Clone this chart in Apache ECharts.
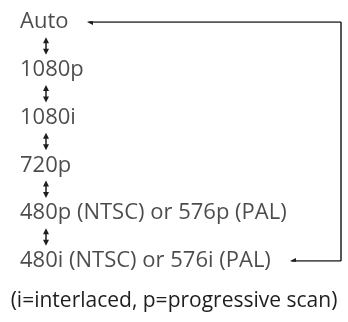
<!DOCTYPE html>
<html><head><meta charset="utf-8">
<script src="https://cdn.jsdelivr.net/npm/echarts@6/dist/echarts.min.js"></script>
<style>html,body{margin:0;padding:0;background:#fff}#c{width:348px;height:322px}</style>
</head><body><div id="c"></div>
<script>
var rows = ['Auto','1080p','1080i','720p','480p (NTSC) or 576p (PAL)','480i (NTSC) or 576i (PAL)'];
var footnote = '(i=interlaced, p=progressive scan)';
var textX = 20;
var arrowX = 46;
var loopTopTipX = 90, loopRightX = 341, loopBottomTipX = 293;

var font = 'Open Sans';
var fs = 22;
var ink = '#1e1e1e';
var last = rows.length - 1;
var head = 'path://M0,10 L5,0 L10,10 Z';

var labelData = rows.map(function(r, i){ return {name: r, value: [textX, i]}; });
var stepArrows = [];
for (var i = 0; i < last; i++) {
  stepArrows.push({coords: [[arrowX, i + 0.38], [arrowX, i + 0.62]]});
}
var loopEnds = [
  {coords: [[loopRightX, 0], [loopTopTipX, 0]]},
  {coords: [[loopRightX, last], [loopBottomTipX, last]]}
];
var loopSide = [{coords: [[loopRightX, 0], [loopRightX, last]]}];

var lineStyle = {color: ink, width: 1.5, opacity: 1};
var chart = echarts.init(document.getElementById('c'), null, {renderer: 'canvas'});
chart.setOption({
  animation: false,
  grid: {left: 0, right: 0, top: 22, bottom: 61},
  xAxis: {type: 'value', min: 0, max: 348, show: false},
  yAxis: {type: 'value', min: 0, max: last, inverse: true, show: false},
  series: [
    {
      type: 'scatter', data: labelData, symbolSize: 0,
      label: {show: true, position: 'right', distance: 0, formatter: '{b}',
        fontFamily: font, fontSize: fs, color: ink}
    },
    {
      type: 'lines', coordinateSystem: 'cartesian2d', data: stepArrows,
      symbol: [head, head], symbolSize: 6, lineStyle: lineStyle
    },
    {
      type: 'lines', coordinateSystem: 'cartesian2d', data: loopEnds,
      symbol: ['none', head], symbolSize: 6, lineStyle: lineStyle
    },
    {
      type: 'lines', coordinateSystem: 'cartesian2d', data: loopSide,
      symbol: ['none', 'none'], lineStyle: lineStyle
    }
  ],
  graphic: [{
    type: 'text', left: 'center', top: 291,
    style: {text: footnote, fontFamily: font, fontSize: 21, fill: ink}
  }]
});
</script></body></html>
